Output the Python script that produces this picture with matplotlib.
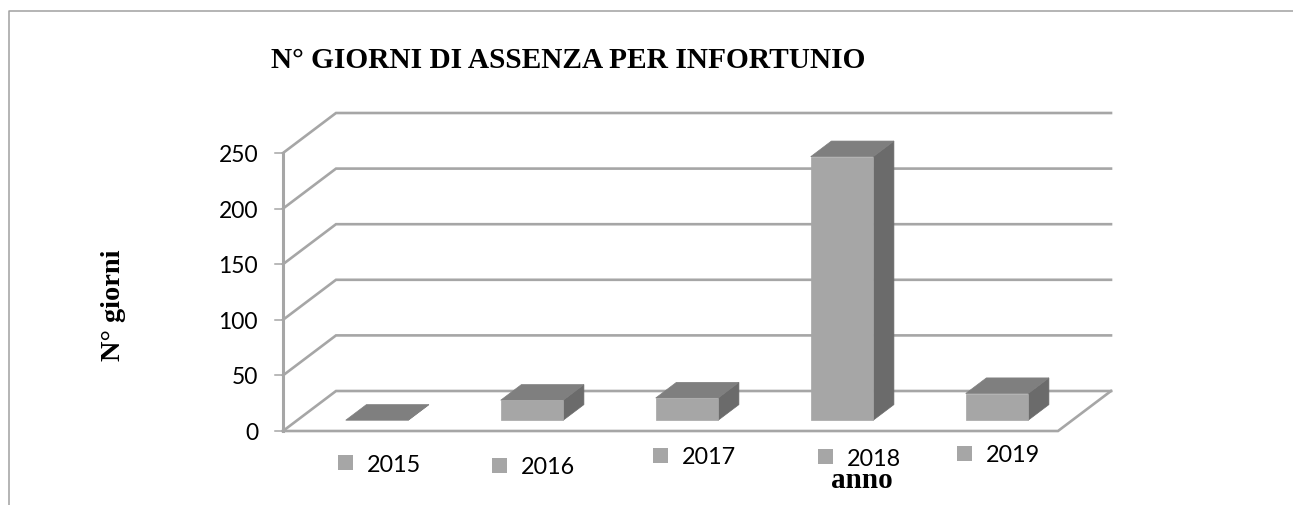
# Giorni di assenza per infortunio: colonne in finto 3D (stile Excel).
# La profondita' e' una proiezione obliqua sui dati: (x, v, d) -> (x + d*DX, v + d*DY).
import matplotlib; matplotlib.use("Agg")
import matplotlib.pyplot as plt
from matplotlib.patches import Polygon, Rectangle

anni = ["2015", "2016", "2017", "2018", "2019"]
giorni = [0, 18, 20, 237, 24]
yticks = [0, 50, 100, 150, 200, 250]

W, H = 1293, 505
GRID = "#a6a6a6"; FRONT = "#a6a6a6"; TOP = "#7f7f7f"; SIDE = "#6b6b6b"
SANS = "Lato"; SERIF = "Liberation Serif"

# posizione delle etichette di legenda (pixel, sinistra quadratino / alto)
leg_pos = [(338, 455), (492, 458), (653, 448), (818, 449), (957, 446)]

DX = 53 / 155.0   # profondita' in unita' di categoria
DY = 40 / 1.112   # profondita' in unita' di valore
BW = 62.5 / 155.0   # larghezza colonna
D0, D1 = 0.27, 0.66

def px(x, y):
    return x / W, 1 - y / H

def proj(x, v, d):
    return (x + d * DX, v + d * DY)

fig = plt.figure(figsize=(W / 100, H / 100), dpi=100, facecolor="white")
l, b = px(283, 431)
r, t = px(1058, 153)
ax = fig.add_axes([l, b, r - l, t - b])
ax.set_xlim(0, 5); ax.set_ylim(0, 250)
ax.axis("off")

# pareti e griglia
for v in yticks:
    pts = [proj(0, v, 0), proj(0, v, 1), proj(5, v, 1)]
    ax.plot(*zip(*pts), color=GRID, lw=1.9, clip_on=False, zorder=1, solid_joinstyle="miter")
    ax.plot([-8 / 155.0, 0], [v, v], color=GRID, lw=1.1, clip_on=False, zorder=1)
    ax.annotate(str(v), (0, v), xytext=(-25 * 0.72, -2.5 * 0.72), textcoords="offset points",
                ha="right", va="center", fontsize=16.5, family=SANS)
ax.plot([0, 0], [0, 250], color=GRID, lw=2.2, clip_on=False, zorder=1)
ax.plot(*zip(proj(0, 0, 0), proj(5, 0, 0), proj(5, 0, 1)), color=GRID, lw=1.9,
        clip_on=False, zorder=1, solid_joinstyle="miter")

# colonne
for i, val in enumerate(giorni):
    x0 = i + 0.5 - BW / 2 + 0.014
    x1 = x0 + BW
    top = [proj(x0, val, D0), proj(x1, val, D0), proj(x1, val, D1), proj(x0, val, D1)]
    side = [proj(x1, 0, D0), proj(x1, val, D0), proj(x1, val, D1), proj(x1, 0, D1)]
    front = [proj(x0, 0, D0), proj(x1, 0, D0), proj(x1, val, D0), proj(x0, val, D0)]
    ax.add_patch(Polygon(side, fc=SIDE, ec=SIDE, lw=0.5, clip_on=False, zorder=3))
    ax.add_patch(Polygon(top, fc=TOP, ec=TOP, lw=0.5, clip_on=False, zorder=3))
    ax.add_patch(Polygon(front, fc=FRONT, ec=FRONT, lw=0.5, clip_on=False, zorder=4))

# legenda sparsa, spostata a mano come nell'originale
for anno, (lx, ly) in zip(anni, leg_pos):
    x, y = px(lx, ly + 15)
    fig.add_artist(Rectangle((x, y), 15 / W, 15 / H, transform=fig.transFigure, fc=FRONT, ec="none"))
    tx, ty = px(lx + 29, ly + 10)
    fig.text(tx, ty, anno, ha="left", va="center", fontsize=16.8, family=SANS)

# cornice del grafico (tagliata in basso e a destra)
cx0, cy0 = px(9, 11)
fig.add_artist(plt.Line2D([cx0, cx0, 1], [0, cy0, cy0], color="#a0a0a0", lw=1.1,
                          transform=fig.transFigure))

tx, ty = px(271, 60)
fig.text(tx, ty, "N° GIORNI DI ASSENZA PER INFORTUNIO", ha="left", va="center",
         fontsize=21.2, fontweight="bold", family=SERIF)
tx, ty = px(113, 305)
fig.text(tx, ty, "N° giorni", rotation=90, ha="center", va="center",
         fontsize=20.4, fontweight="bold", family=SERIF)
tx, ty = px(862, 481)
fig.text(tx, ty, "anno", ha="center", va="center", fontsize=21, fontweight="bold", family=SERIF)

fig.savefig("out.png", dpi=100, facecolor="white")
